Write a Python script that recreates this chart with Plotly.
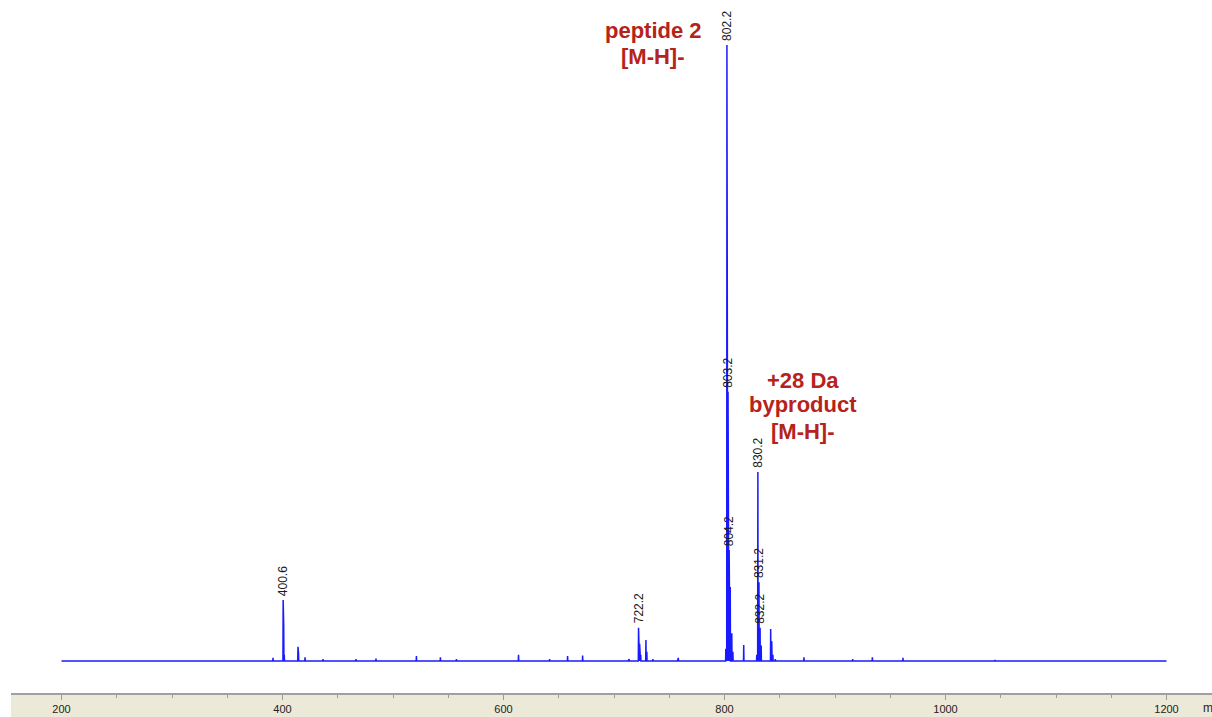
import plotly.graph_objects as go

# Centroid list of the spectrum: m/z and relative intensity (%)
peak_mz = [
    391.4, 400.6, 401.1, 401.6, 414.0, 414.5, 420.4, 436.7, 466.5, 484.6,
    521.2, 542.9, 557.4, 613.6, 641.7, 658.0, 671.6, 713.0, 713.6,
    722.2, 723.2, 724.2, 728.9, 729.7, 735.2, 757.6, 758.2,
    801.2, 802.2, 803.2, 803.7, 804.2, 805.2, 806.6, 807.6, 817.4,
    829.2, 830.2, 831.2, 832.2, 833.2, 841.8, 842.8, 843.8, 846.0,
    871.9, 916.0, 933.8, 961.5, 1044.8,
]
peak_int = [
    0.5, 9.9, 5.8, 1.0, 2.3, 1.3, 0.6, 0.3, 0.3, 0.4,
    0.8, 0.6, 0.3, 1.0, 0.3, 0.8, 0.9, 0.3, 0.3,
    5.4, 2.8, 1.0, 3.4, 1.5, 0.3, 0.5, 0.5,
    2.0, 100.0, 43.7, 25.0, 18.0, 12.0, 4.5, 1.5, 2.6,
    1.0, 30.7, 12.8, 5.4, 2.5, 5.2, 3.2, 1.0, 0.3,
    0.6, 0.3, 0.6, 0.5, 0.2,
]

# Peaks that carry an m/z label
labelled_mz = [400.6, 722.2, 802.2, 803.2, 804.2, 830.2, 831.2, 832.2]

scan_start, scan_end = 200, 1200
tick_values = [200, 400, 600, 800, 1000, 1200]
axis_unit = "m"

# Build a profile trace from the centroids (narrow triangle per peak)
half_width = 0.2
prof_x = [scan_start]
prof_y = [0.0]
for mz, inten in sorted(zip(peak_mz, peak_int)):
    prof_x += [mz - half_width, mz, mz + half_width]
    prof_y += [0.0, inten, 0.0]
prof_x.append(scan_end)
prof_y.append(0.0)

fig = go.Figure()
fig.add_trace(go.Scatter(
    x=prof_x, y=prof_y, mode="lines",
    line=dict(color="#1a1aff", width=1.5),
    hoverinfo="skip", showlegend=False,
))

lookup = dict(zip(peak_mz, peak_int))
annotations = []
for mz in labelled_mz:
    annotations.append(dict(
        x=mz, y=lookup[mz], xref="x", yref="y",
        text=f"{mz:.1f}", textangle=-90, showarrow=False,
        xanchor="center", yanchor="bottom", yshift=2,
        font=dict(family="Liberation Sans, Arial", size=12, color="#1a1a1a"),
    ))

red = "#b5231a"
red_font = dict(family="Liberation Sans, Arial", size=22, color=red, weight="bold")
for text, x, y in [
    ("peptide 2", 735.3, 102.3),
    ("[M-H]-", 735.3, 98.2),
    ("+28 Da", 871.0, 45.6),
    ("byproduct", 871.0, 41.6),
    ("[M-H]-", 871.0, 37.2),
]:
    annotations.append(dict(
        x=x, y=y, xref="x", yref="y", text=f"<b>{text}</b>", showarrow=False,
        xanchor="center", yanchor="middle", font=red_font,
    ))

annotations.append(dict(
    x=0.9905, y=-0.0217, xref="paper", yref="paper", text=axis_unit,
    showarrow=False, xanchor="left", yanchor="middle",
    font=dict(family="Liberation Sans, Arial", size=12, color="#222222"),
))

fig.update_layout(
    width=1212, height=717,
    margin=dict(l=11, r=0, t=0, b=24),
    paper_bgcolor="white", plot_bgcolor="white",
    annotations=annotations,
    shapes=[dict(
        type="rect", xref="paper", yref="paper",
        x0=0, x1=1, y0=-24 / 693, y1=0,
        fillcolor="#ece9d8", line=dict(width=0), layer="below",
    )],
    xaxis=dict(
        range=[154.30, 1241.18],
        tickvals=tick_values,
        ticks="outside", ticklen=5, tickwidth=1, tickcolor="#9a9a9a",
        showline=True, linecolor="#a0a0a0", linewidth=2,
        showgrid=False, zeroline=False,
        tickfont=dict(family="Liberation Sans, Arial", size=11, color="#222222"),
        minor=dict(dtick=50, tick0=200, ticks="outside", ticklen=3,
                   tickcolor="#9a9a9a", showgrid=False),
    ),
    yaxis=dict(range=[-5.195, 107.305], visible=False, fixedrange=True),
)

fig.write_html("out.html")
